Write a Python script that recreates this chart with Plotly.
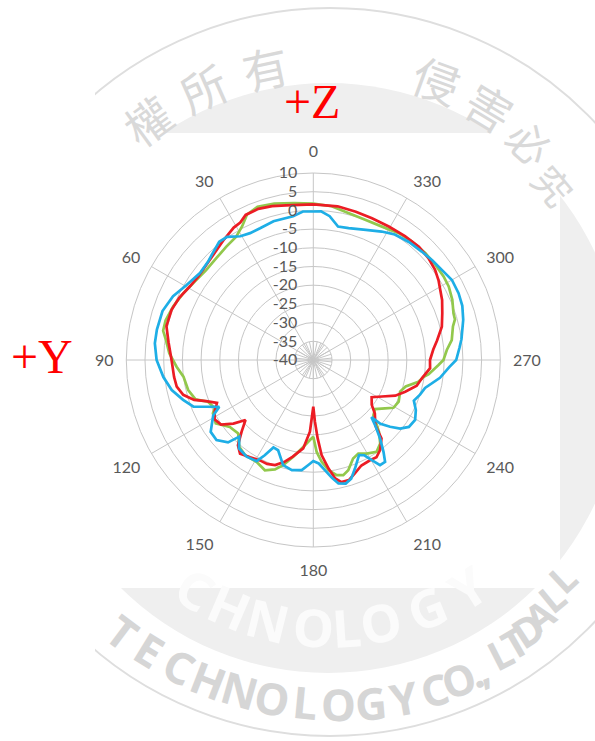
import math
import plotly.graph_objects as go

# ---------------- data (dB vs angle, deg) ----------------
RED_THETA = [0, 10, 15, 20, 25, 28, 31, 37, 46, 54,
             59, 65, 70.5, 77, 83, 90, 97, 101, 105, 108.5,
             111, 114, 117.5, 121, 125, 128.5, 131.5, 135, 138.5, 142,
             147, 152, 156, 160, 164, 168, 173.5, 177.3, 180, 181.5,
             183.2, 185, 188, 190.5, 193, 196.5, 200, 204.5, 209.5, 213,
             216.5, 221, 223.5, 229, 232.5, 237.5, 242, 246.5, 251, 256,
             261, 266, 270, 275, 279, 284.5, 290, 295, 299, 302.5,
             306.5, 311.5, 317, 323.5, 330.5, 337.5, 344, 351, 360]
RED_DB = [1.6, 2.0, 2.6, 3.0, 2.8, 1.6, 1.3, 0.0, -1.5, -2.0,
          -1.6, -0.5, 0.2, 0.3, -1.0, -2.1, -2.5, -2.8, -4.0, -6.4,
          -9.3, -11.8, -10.3, -9.2, -9.9, -12.7, -15.8, -12.9, -9.6, -8.2,
          -9.0, -9.6, -9.6, -10.1, -11.6, -13.6, -16.2, -20.8, -27.5, -23.5,
          -19.0, -14.5, -10.7, -7.8, -6.5, -6.5, -7.7, -9.0, -9.2, -9.0,
          -10.0, -12.2, -15.9, -18.2, -20.3, -21.5, -19.2, -16.1, -14.0, -11.5,
          -10.4, -8.7, -8.8, -7.8, -6.5, -4.5, -3.3, -2.0, -1.2, -0.3,
          0.5, 1.1, 1.4, 1.2, 1.0, 1.0, 1.25, 1.6, 1.6]

GREEN_THETA = [0, 7, 14, 20, 24.5, 28, 32, 37.5, 43.5, 50,
               56.5, 63, 69, 75, 79, 82.3, 87.3, 92.8, 97.3, 103.5,
               108.5, 111.6, 116, 118, 123, 128.7, 134.4, 139.5, 144.3, 151,
               156.3, 160.7, 164, 168.3, 173.4, 177.6, 180, 182.1, 184.7, 187.8,
               191.5, 194.6, 197.6, 202, 205.7, 209.7, 214.6, 218.7, 222.5, 225.3,
               227.5, 231.5, 236, 239.2, 244, 250, 254, 258.3, 261.4, 263,
               267.7, 270, 274.3, 278.2, 283.5, 286, 288.4, 293.4, 298.5, 302.7,
               308, 313.7, 320.3, 326, 333, 339.7, 346.6, 353.2, 360]
GREEN_DB = [1.8, 2.3, 3.1, 3.6, 2.75, 0.5, -1.1, -1.8, -2.4, -2.6,
            -2.0, -0.9, 0.1, 0.9, 0.9, -0.25, -1.45, -3.4, -5.0, -5.6,
            -6.8, -9.7, -10.7, -9.6, -8.9, -11.4, -11.9, -9.5, -8.7, -8.8,
            -7.8, -9.0, -10.75, -13.6, -16.6, -18.6, -19.5, -15.4, -12.7, -10.3,
            -8.6, -8.2, -9.1, -11.6, -12.25, -11.2, -10.2, -11.4, -14.0, -16.5,
            -18.2, -18.9, -16.85, -15.05, -14.6, -15.3, -14.3, -11.3, -10.1, -8.9,
            -6.5, -5.2, -4.2, -2.6, -1.6, -0.6, -0.5, 0.5, 1.2, 1.4,
            1.4, 1.4, 1.2, 0.9, 0.1, 0.0, 0.4, 1.4, 1.8]

BLUE_THETA = [0, 4, 8, 16, 22, 26.5, 30.5, 35, 38.5, 44,
              47, 52.5, 59.5, 65.5, 72, 79, 84, 90, 96.5, 102,
              107, 111.3, 113.7, 116.5, 119, 125, 129.6, 134, 136, 140,
              145.4, 150.7, 153, 155.5, 158.7, 164, 169, 174, 177.3, 180,
              183, 186, 189, 191.5, 194.7, 197.7, 201, 205.7, 208.2, 210.3,
              212.4, 215.2, 217.4, 220.4, 223.1, 225.5, 226.5, 229, 231.7, 235,
              239.5, 244, 248, 252, 256, 262, 267, 270, 274.7, 278,
              285, 290, 294.7, 300, 303.4, 310, 315, 321, 327, 332,
              338, 345, 349.5, 353.5, 357, 360]
BLUE_DB = [-0.3, -0.2, -1.2, -1.4, -2.0, -2.1, -1.6, 0.2, 0.4, -0.9,
           -1.5, -1.8, -0.6, 1.2, 2.4, 2.6, 2.6, 1.9, 0.35, -1.3,
           -3.6, -5.6, -8.9, -11.9, -9.4, -6.5, -6.4, -8.3, -11.5, -9.1,
           -8.6, -9.0, -11.4, -14.3, -14.1, -10.75, -10.0, -10.4, -11.9, -13.0,
           -12.3, -10.4, -8.1, -6.3, -5.85, -6.7, -8.9, -11.8, -11.1, -9.0,
           -6.7, -6.7, -9.1, -12.45, -15.55, -18.2, -15.25, -12.8, -10.4, -8.8,
           -8.4, -9.5, -11.0, -10.0, -9.2, -5.8, -3.6, -1.8, -0.8, 0.0,
           1.5, 2.4, 2.75, 2.8, 2.2, 1.5, 1.0, 0.6, 0.0, -1.1,
           -2.5, -3.5, -3.7, -1.3, -0.2, -0.3]

ANGLE_TICKS = list(range(0, 360, 30))
RADIAL_TICKS = list(range(-40, 11, 5))

assert len(RED_THETA) == len(RED_DB)
assert len(GREEN_THETA) == len(GREEN_DB)
assert len(BLUE_THETA) == len(BLUE_DB)

W, H = 595, 741
GRID = "#c6c6c6"
LABEL = "#595959"


def px(x):
    return x / W


def py(y):
    return 1 - y / H


fig = go.Figure()

# small star of spokes near the centre (Excel draws one spoke per category)
star_t, star_r = [], []
for a in range(0, 360, 12):
    star_t += [a, a, None]
    star_r += [-40, -35, None]
fig.add_trace(go.Scatterpolar(theta=star_t, r=star_r, mode="lines",
                              line=dict(color=GRID, width=1),
                              hoverinfo="skip", showlegend=False))

for name, th, rr, col in [("green", GREEN_THETA, GREEN_DB, "#92c84c"),
                          ("red", RED_THETA, RED_DB, "#ec1c24"),
                          ("blue", BLUE_THETA, BLUE_DB, "#1eaee6")]:
    fig.add_trace(go.Scatterpolar(theta=th, r=rr, mode="lines", name=name,
                                  line=dict(color=col, width=2.7),
                                  showlegend=False))

cx, cy, rad = 313.3, 360, 187
fig.update_layout(
    width=W, height=H,
    margin=dict(l=0, r=0, t=0, b=0),
    paper_bgcolor="white",
    showlegend=False,
    polar=dict(
        domain=dict(x=[px(cx - rad), px(cx + rad)], y=[py(cy + rad), py(cy - rad)]),
        bgcolor="rgba(0,0,0,0)",
        angularaxis=dict(
            direction="counterclockwise", rotation=90,
            tickmode="array", tickvals=ANGLE_TICKS,
            ticktext=[str(v) for v in ANGLE_TICKS],
            showgrid=True, gridcolor=GRID, gridwidth=1,
            showline=True, linecolor=GRID, linewidth=1,
            ticks="outside", ticklen=9, tickcolor="rgba(0,0,0,0)",
            tickfont=dict(family="Lato", size=16, color=LABEL),
        ),
        radialaxis=dict(
            range=[-40, 10], angle=90, side="counterclockwise",
            tickmode="array", tickvals=RADIAL_TICKS,
            ticktext=[str(v) for v in RADIAL_TICKS],
            showgrid=True, gridcolor=GRID, gridwidth=1,
            showline=False, tickangle=90,
            ticks="outside", ticklen=10, tickcolor="rgba(0,0,0,0)",
            tickfont=dict(family="Lato", size=16, color=LABEL),
        ),
    ),
)

# ---------------- background watermark (decoration) ----------------
shapes = []
wcx, wcy = 330, 372
shapes.append(dict(type="circle", xref="paper", yref="paper", layer="below",
                   x0=px(wcx - 364), x1=px(wcx + 364), y0=py(wcy + 364), y1=py(wcy - 364),
                   line=dict(color="#dedede", width=2), fillcolor="rgba(0,0,0,0)"))
shapes.append(dict(type="circle", xref="paper", yref="paper", layer="below",
                   x0=px(328 - 295), x1=px(328 + 295), y0=py(378 + 295), y1=py(378 - 295),
                   line=dict(width=0), fillcolor="#efefef"))
shapes.append(dict(type="rect", xref="paper", yref="paper", layer="below",
                   x0=0, x1=px(95), y0=0, y1=1, line=dict(width=0), fillcolor="white"))
shapes.append(dict(type="rect", xref="paper", yref="paper", layer="below",
                   x0=px(95), x1=px(560), y0=py(588), y1=py(133),
                   line=dict(width=0), fillcolor="white"))
fig.update_layout(shapes=shapes)


def note(x, y, text, size, color, family, angle=0):
    return dict(x=px(x), y=py(y), xref="paper", yref="paper", text=text,
                showarrow=False, textangle=angle, xanchor="center", yanchor="middle",
                font=dict(family=family, size=size, color=color))


ann = []
# top ring characters
TOP_CHARS = ["權", "所", "有", "侵", "害", "必", "究"]
TOP_PHI = [-36, -24, -12, 20, 31, 41, 50]
TOP_R = [312, 312, 312, 312, 310, 305, 292]
TOP_SIZE = [46, 46, 46, 46, 46, 42, 38]
for ch, phi, rr, sz in zip(TOP_CHARS, TOP_PHI, TOP_R, TOP_SIZE):
    a = math.radians(phi)
    x = wcx + rr * math.sin(a)
    y = wcy - rr * math.cos(a)
    ann.append(note(x, y, ch, sz, "#d9d9d9", "Noto Sans CJK TC", phi))
# bottom ring text
BOT_CHARS = list("TECHNOLOGY CO., LTD ALL")
BOT_PHI = [216.7, 211.5, 206.3, 201.1, 195.9, 190.7, 185.5, 180.3, 175.1, 169.9,
           None, 164.8, 160.8, 157.8, 156.8, None, 153.0, 150.0, 147.0, None,
           144.0, 140.5, 137.0]
BOT_R = [364] * 10 + [None, 362, 360, 358, 357, None, 352, 349, 345, None, 340, 333, 326]
BOT_SIZE = [44] * 10 + [None, 42, 42, 42, 42, None, 40, 40, 40, None, 38, 38, 38]
for ch, phi, rr, sz in zip(BOT_CHARS, BOT_PHI, BOT_R, BOT_SIZE):
    if phi is None:
        continue
    a = math.radians(phi)
    x = 340 + rr * math.sin(a)
    y = 340 - rr * math.cos(a)
    ann.append(note(x, y, "<b>%s</b>" % ch, sz, "#d6d6d6", "Noto Sans", phi - 180))
# inner white text on the grey disc (parts over the white chart box vanish)
IN_CHARS = list("CHNOLOGY")
IN_PHI = [211.9, 203.1, 194.1, 183.8, 176.2, 168.5, 157.7, 147.5]
for ch, phi in zip(IN_CHARS, IN_PHI):
    a = math.radians(phi)
    x = 330 + 255 * math.sin(a)
    y = 372 - 255 * math.cos(a)
    ann.append(note(x, y, "<b>%s</b>" % ch, 52, "#fbfbfb", "Noto Sans", phi - 180))

# axis labels of the measurement
ann.append(note(312, 101, "+Z", 48, "#ff0000", "Liberation Serif"))
ann.append(note(42, 356, "+Y", 48, "#ff0000", "Liberation Serif"))
fig.update_layout(annotations=ann)

fig.write_html("out.html", config={"displayModeBar": False},
               post_script="document.body.style.margin='0';")
